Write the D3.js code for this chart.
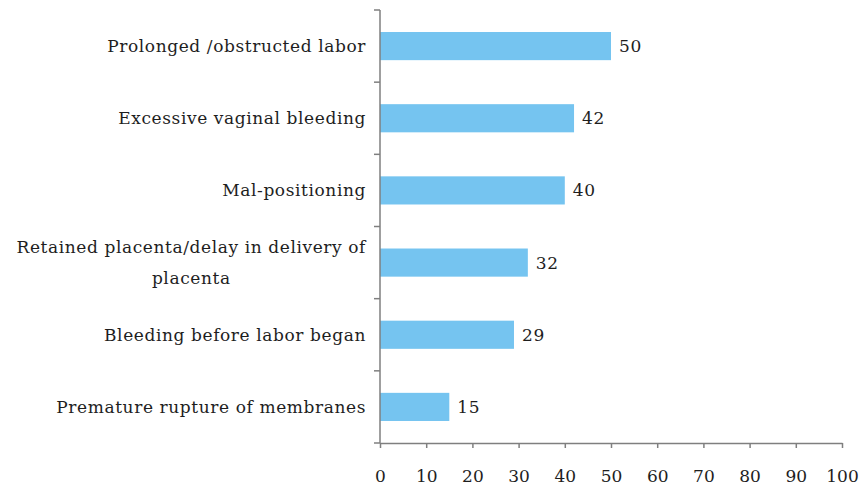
<!DOCTYPE html>
<html>
<head>
<meta charset="utf-8">
<script src="https://cdn.jsdelivr.net/npm/d3@7"></script>
<style>
  body { margin: 0; background: #fff; }
  text { font-family: "DejaVu Serif", serif; fill: #1e1e1e; letter-spacing: 0.6px; }
</style>
</head>
<body>
<div id="chart"></div>
<script>
// data
const categories = [
  "Prolonged /obstructed labor",
  "Excessive vaginal bleeding",
  "Mal-positioning",
  "Retained placenta/delay in delivery of placenta",
  "Bleeding before labor began",
  "Premature rupture of membranes"
];
const values = [50, 42, 40, 32, 29, 15];
const xTicks = [0, 10, 20, 30, 40, 50, 60, 70, 80, 90, 100];

// long labels get broken by hand
const labelLines = {
  "Retained placenta/delay in delivery of placenta": ["Retained placenta/delay in delivery of", "placenta"]
};

const W = 860, H = 489;
const margin = {top: 10, right: 18, bottom: 46, left: 380};
const width = W - margin.left - margin.right;
const height = H - margin.top - margin.bottom;
const fs = "17px";

const svg = d3.select("#chart").append("svg")
  .attr("width", W)
  .attr("height", H);
const g = svg.append("g")
  .attr("transform", `translate(${margin.left},${margin.top})`);

const x = d3.scaleLinear().domain([0, 100]).range([0, width]);
const y = d3.scaleBand().domain(categories).range([0, height]).paddingInner(0.61).paddingOuter(0.305);

// bars
g.selectAll("rect.bar")
  .data(values)
  .join("rect")
  .attr("class", "bar")
  .attr("x", 0)
  .attr("y", (d, i) => y(categories[i]))
  .attr("width", d => x(d))
  .attr("height", y.bandwidth())
  .attr("fill", "#75c4f0");

// value labels
g.selectAll("text.val")
  .data(values)
  .join("text")
  .attr("class", "val")
  .attr("x", d => x(d) + 8)
  .attr("y", (d, i) => y(categories[i]) + y.bandwidth() / 2)
  .attr("dy", "0.35em")
  .style("font-size", fs)
  .text(d => d);

// x axis
const xAxis = d3.axisBottom(x).tickValues(xTicks).tickSize(5).tickPadding(22).tickSizeOuter(0);
const xg = g.append("g")
  .attr("transform", `translate(0,${height})`)
  .call(xAxis);
xg.selectAll("text").style("font-size", fs).style("letter-spacing", "0px");

// y axis: ticks sit on the band edges
const yEdges = d3.range(categories.length + 1).map(i => i * height / categories.length);
const yg = g.append("g");
yg.append("line")
  .attr("x1", 0).attr("x2", 0)
  .attr("y1", 0).attr("y2", height);
yg.selectAll("line.tk")
  .data(yEdges)
  .join("line")
  .attr("class", "tk")
  .attr("x1", -6).attr("x2", 0)
  .attr("y1", d => d).attr("y2", d => d);

g.selectAll(".domain, .tick line").attr("stroke", "#7f7f7f").attr("stroke-width", 1.5);
yg.selectAll("line").attr("stroke", "#7f7f7f").attr("stroke-width", 1.5);

// category labels
const labels = g.append("g");
categories.forEach(c => {
  const lines = labelLines[c] || [c];
  const cy = y(c) + y.bandwidth() / 2;
  const t = labels.append("text")
    .style("font-size", fs)
    .attr("text-anchor", lines.length > 1 ? "middle" : "end");
  if (lines.length === 1) {
    t.attr("x", -14).attr("y", cy).attr("dy", "0.35em").text(c);
  } else {
    const lh = 31;
    const spans = t.selectAll("tspan").data(lines).join("tspan")
      .attr("y", (d, i) => cy + (i - (lines.length - 1) / 2) * lh)
      .attr("dy", "0.35em")
      .text(d => d);
    const w0 = spans.nodes()[0].getComputedTextLength();
    spans.attr("x", -14 - w0 / 2);
  }
});
</script>
</body>
</html>
